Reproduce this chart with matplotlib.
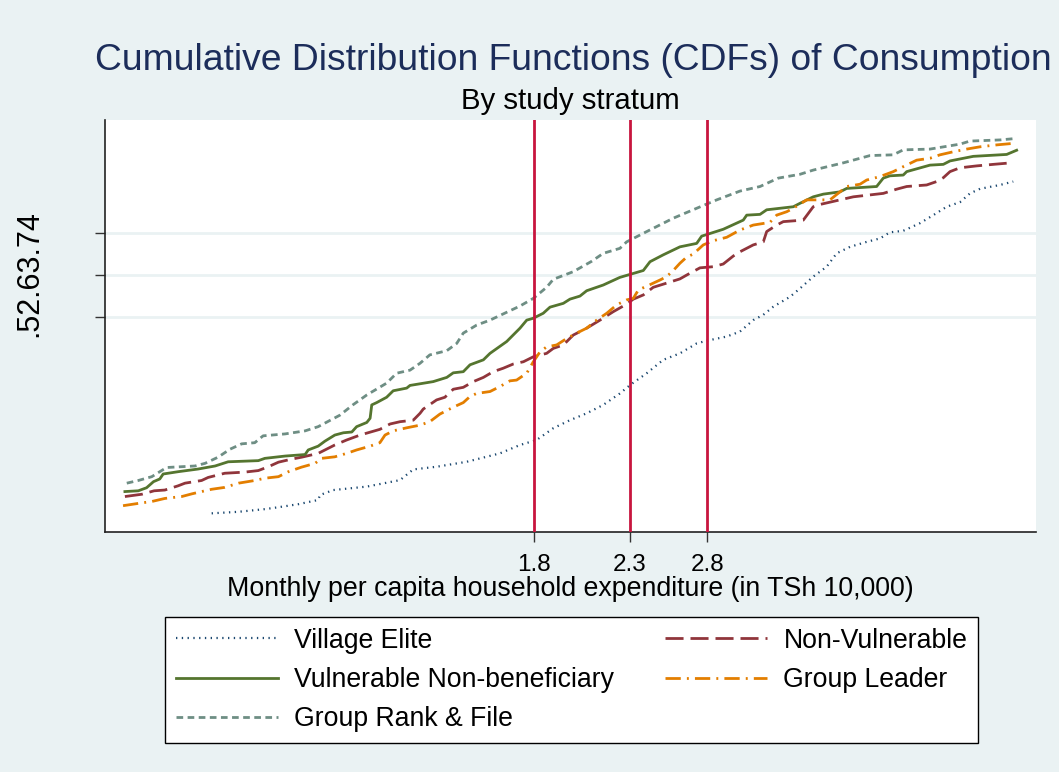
import matplotlib
matplotlib.use("Agg")
import matplotlib.pyplot as plt

plt.rcParams['font.family'] = ['Liberation Sans', 'DejaVu Sans']

# ---- data: (monthly per capita expenditure in TSh 10,000, cumulative share) ----
elite_x = [0.791, 0.847, 0.906, 0.938, 0.987, 1.038, 1.043, 1.079, 1.175, 1.279, 1.323, 1.404,
           1.516, 1.650, 1.737, 1.812, 1.891, 1.973, 2.059, 2.148, 2.241, 2.300, 2.400, 2.503,
           2.612, 2.726, 2.796, 2.943, 3.044, 3.149, 3.231, 3.314, 3.458, 3.548, 3.670, 3.798,
           3.896, 4.031, 4.206, 4.351, 4.463, 4.617, 4.819, 4.985, 5.158, 5.336, 5.474, 5.616,
           5.909, 6.113]
elite_y = [0.005, 0.009, 0.016, 0.021, 0.029, 0.040, 0.053, 0.066, 0.075, 0.092, 0.120, 0.127,
           0.140, 0.162, 0.184, 0.197, 0.228, 0.249, 0.267, 0.289, 0.319, 0.341, 0.372, 0.407,
           0.424, 0.450, 0.457, 0.468, 0.481, 0.511, 0.525, 0.546, 0.572, 0.594, 0.625, 0.651,
           0.686, 0.703, 0.716, 0.725, 0.741, 0.745, 0.765, 0.786, 0.808, 0.820, 0.843, 0.855,
           0.865, 0.874]

nonvul_x = [0.634, 0.662, 0.683, 0.702, 0.726, 0.739, 0.771, 0.784, 0.818, 0.861, 0.891, 0.914,
            0.938, 0.970, 0.995, 1.038, 1.083, 1.116, 1.155, 1.215, 1.247, 1.279, 1.323, 1.346,
            1.357, 1.404, 1.434, 1.465, 1.503, 1.542, 1.582, 1.622, 1.664, 1.707, 1.752, 1.797,
            1.859, 1.891, 1.940, 1.990, 2.059, 2.130, 2.203, 2.280, 2.319, 2.379, 2.440, 2.525,
            2.612, 2.657, 2.749, 2.844, 2.917, 2.993, 3.044, 3.149, 3.231, 3.259, 3.343, 3.400,
            3.578, 3.670, 3.734, 3.929, 4.065, 4.388, 4.540, 4.658, 4.901, 5.028, 5.114, 5.202,
            5.336, 5.568, 5.809, 6.011]
nonvul_y = [0.049, 0.055, 0.064, 0.066, 0.077, 0.084, 0.091, 0.099, 0.110, 0.113, 0.117, 0.127,
            0.139, 0.147, 0.152, 0.162, 0.184, 0.197, 0.210, 0.225, 0.239, 0.245, 0.249, 0.267,
            0.278, 0.302, 0.309, 0.330, 0.335, 0.350, 0.361, 0.376, 0.385, 0.396, 0.402, 0.415,
            0.424, 0.437, 0.446, 0.472, 0.490, 0.511, 0.533, 0.553, 0.566, 0.577, 0.597, 0.608,
            0.619, 0.629, 0.648, 0.651, 0.658, 0.679, 0.690, 0.708, 0.716, 0.743, 0.760, 0.769,
            0.773, 0.808, 0.814, 0.826, 0.834, 0.843, 0.854, 0.861, 0.865, 0.874, 0.884, 0.900,
            0.910, 0.915, 0.919, 0.922]

vulnb_x = [0.634, 0.656, 0.670, 0.682, 0.693, 0.699, 0.726, 0.764, 0.798, 0.825, 0.891, 0.906,
           0.954, 1.004, 1.012, 1.038, 1.056, 1.083, 1.107, 1.131, 1.145, 1.175, 1.185, 1.190,
           1.205, 1.236, 1.257, 1.301, 1.312, 1.392, 1.441, 1.465, 1.503, 1.529, 1.582, 1.609,
           1.679, 1.737, 1.767, 1.797, 1.843, 1.875, 1.940, 1.973, 2.024, 2.059, 2.148, 2.241,
           2.379, 2.420, 2.503, 2.612, 2.726, 2.761, 2.917, 3.070, 3.097, 3.204, 3.259, 3.488,
           3.548, 3.670, 3.765, 3.929, 3.997, 4.314, 4.388, 4.463, 4.617, 4.658, 4.943, 5.114,
           5.202, 5.520, 6.011, 6.166]
vulnb_y = [0.062, 0.064, 0.072, 0.088, 0.095, 0.108, 0.114, 0.121, 0.129, 0.140, 0.143, 0.149,
           0.155, 0.159, 0.171, 0.181, 0.194, 0.210, 0.216, 0.218, 0.232, 0.243, 0.254, 0.289,
           0.295, 0.309, 0.326, 0.333, 0.340, 0.350, 0.361, 0.373, 0.376, 0.394, 0.407, 0.424,
           0.455, 0.490, 0.511, 0.516, 0.529, 0.545, 0.555, 0.566, 0.574, 0.588, 0.603, 0.623,
           0.641, 0.664, 0.682, 0.703, 0.712, 0.731, 0.749, 0.773, 0.786, 0.788, 0.800, 0.808,
           0.817, 0.834, 0.841, 0.847, 0.856, 0.861, 0.883, 0.889, 0.891, 0.900, 0.917, 0.919,
           0.928, 0.940, 0.945, 0.956]

leader_x = [0.631, 0.656, 0.679, 0.702, 0.733, 0.752, 0.771, 0.791, 0.818, 0.847, 0.883, 0.906,
            0.938, 0.962, 0.995, 1.030, 1.047, 1.083, 1.116, 1.145, 1.185, 1.215, 1.231, 1.257,
            1.301, 1.346, 1.380, 1.416, 1.465, 1.503, 1.529, 1.555, 1.609, 1.650, 1.693, 1.722,
            1.767, 1.797, 1.828, 1.859, 1.907, 1.957, 2.007, 2.059, 2.112, 2.167, 2.223, 2.280,
            2.319, 2.349, 2.400, 2.482, 2.525, 2.568, 2.612, 2.657, 2.702, 2.772, 2.844, 2.943,
            3.044, 3.149, 3.286, 3.343, 3.430, 3.488, 3.609, 3.830, 3.929, 3.997, 4.135, 4.206,
            4.351, 4.501, 4.617, 4.778, 4.943, 5.071, 5.246, 5.428, 5.616, 5.860, 6.113]
leader_y = [0.025, 0.031, 0.036, 0.044, 0.049, 0.056, 0.062, 0.068, 0.073, 0.084, 0.091, 0.097,
            0.101, 0.114, 0.126, 0.136, 0.149, 0.153, 0.162, 0.171, 0.181, 0.190, 0.210, 0.221,
            0.229, 0.236, 0.245, 0.265, 0.283, 0.295, 0.311, 0.319, 0.324, 0.337, 0.352, 0.354,
            0.372, 0.402, 0.428, 0.441, 0.446, 0.463, 0.477, 0.490, 0.511, 0.529, 0.551, 0.564,
            0.568, 0.590, 0.600, 0.616, 0.625, 0.641, 0.660, 0.676, 0.684, 0.708, 0.719, 0.728,
            0.747, 0.760, 0.767, 0.786, 0.795, 0.804, 0.826, 0.826, 0.847, 0.861, 0.867, 0.878,
            0.887, 0.900, 0.913, 0.930, 0.935, 0.944, 0.952, 0.959, 0.965, 0.970, 0.974]

rank_x = [0.637, 0.656, 0.679, 0.705, 0.758, 0.778, 0.804, 0.829, 0.854, 0.883, 0.902, 0.954,
          1.004, 1.038, 1.097, 1.134, 1.175, 1.236, 1.268, 1.312, 1.346, 1.380, 1.441, 1.478,
          1.503, 1.555, 1.609, 1.737, 1.797, 1.859, 1.891, 1.990, 2.085, 2.148, 2.241, 2.280,
          2.400, 2.568, 2.726, 2.869, 3.044, 3.204, 3.357, 3.548, 3.670, 3.963, 4.241, 4.501,
          4.617, 4.943, 5.336, 5.474, 5.909, 6.166]
rank_y = [0.084, 0.091, 0.101, 0.125, 0.129, 0.136, 0.152, 0.173, 0.187, 0.190, 0.208, 0.213,
          0.221, 0.232, 0.262, 0.289, 0.315, 0.346, 0.372, 0.380, 0.398, 0.420, 0.431, 0.450,
          0.477, 0.498, 0.511, 0.548, 0.568, 0.597, 0.618, 0.638, 0.665, 0.686, 0.699, 0.716,
          0.743, 0.778, 0.804, 0.826, 0.849, 0.861, 0.883, 0.893, 0.904, 0.923, 0.942, 0.944,
          0.957, 0.959, 0.972, 0.980, 0.983, 0.987]

ref_lines = [1.8, 2.3, 2.8]
y_ticks = [0.52, 0.63, 0.74]

title = "Cumulative Distribution Functions (CDFs) of Consumption"
subtitle = "By study stratum"
xlabel = "Monthly per capita household expenditure (in TSh 10,000)"

# ---- styling ----
BG = '#EAF2F3'
fig = plt.figure(figsize=(10.59, 7.72), dpi=100, facecolor=BG)
ax = fig.add_axes([105/1059, 1-532/772, (1036-105)/1059, (532-120)/772])
ax.set_facecolor('white')

ax.plot(elite_x, elite_y, color='#1A476F', lw=1.6, dashes=(0.6, 2.0), label='Village Elite')
ax.plot(nonvul_x, nonvul_y, color='#90353B', lw=2.0, dashes=(6.5, 2.5), label='Non-Vulnerable')
ax.plot(vulnb_x, vulnb_y, color='#55752F', lw=2.0, label='Vulnerable Non-beneficiary')
ax.plot(leader_x, leader_y, color='#E37E00', lw=2.0, dashes=(5.5, 2.2, 0.7, 2.2), label='Group Leader')
ax.plot(rank_x, rank_y, color='#6E8E84', lw=2.0, dashes=(2.4, 1.6), label='Group Rank & File')

for v in ref_lines:
    ax.axvline(v, color='#C8153E', lw=2.0, zorder=5)

ax.set_xscale('log')
ax.set_xlim(0.6026, 6.478)
ax.set_ylim(-0.0439, 1.0352)
ax.set_xticks(ref_lines)
ax.set_xticklabels([str(v) for v in ref_lines])
ax.xaxis.set_minor_locator(matplotlib.ticker.NullLocator())
ax.set_yticks(y_ticks)
ax.set_yticklabels(['', '', ''])
ax.yaxis.grid(True, color=BG, lw=2.0)
ax.set_axisbelow(True)
ax.tick_params(axis='both', length=7, width=1.0, color='#333333', labelsize=17.5, pad=9)

for s in ['top', 'right']:
    ax.spines[s].set_visible(False)
for s in ['left', 'bottom']:
    ax.spines[s].set_color('#222222')
    ax.spines[s].set_linewidth(1.2)

ax.set_xlabel(xlabel, fontsize=19.3, labelpad=0)

fig.text(573/1059, 1-60/772, title, ha='center', va='center', fontsize=26.8, color='#1C2D5A')
fig.text(570/1059, 1-101/772, subtitle, ha='center', va='center', fontsize=21.2, color='black')
fig.text(29/1059, 1-274/772, '.52.63.74', rotation=90, ha='center', va='center', fontsize=22)

h = {ln.get_label(): ln for ln in ax.get_lines() if not ln.get_label().startswith('_')}
order = ['Village Elite', 'Vulnerable Non-beneficiary', 'Group Rank & File',
         'Non-Vulnerable', 'Group Leader']
leg = fig.legend([h[k] for k in order], order, ncol=2, loc='upper left',
                 bbox_to_anchor=(165/1059, 1-742/772, (978-165)/1059, (742-617)/772),
                 mode='expand', fontsize=19.2, handlelength=3.85, handletextpad=0.6,
                 frameon=True, fancybox=False, borderaxespad=0, labelspacing=0.5,
                 borderpad=0.4)
leg.get_frame().set_edgecolor('black')
leg.get_frame().set_linewidth(1.0)
leg.get_frame().set_facecolor('white')
leg.get_frame().set_alpha(1)

fig.savefig('out.png', dpi=100, facecolor=BG)
